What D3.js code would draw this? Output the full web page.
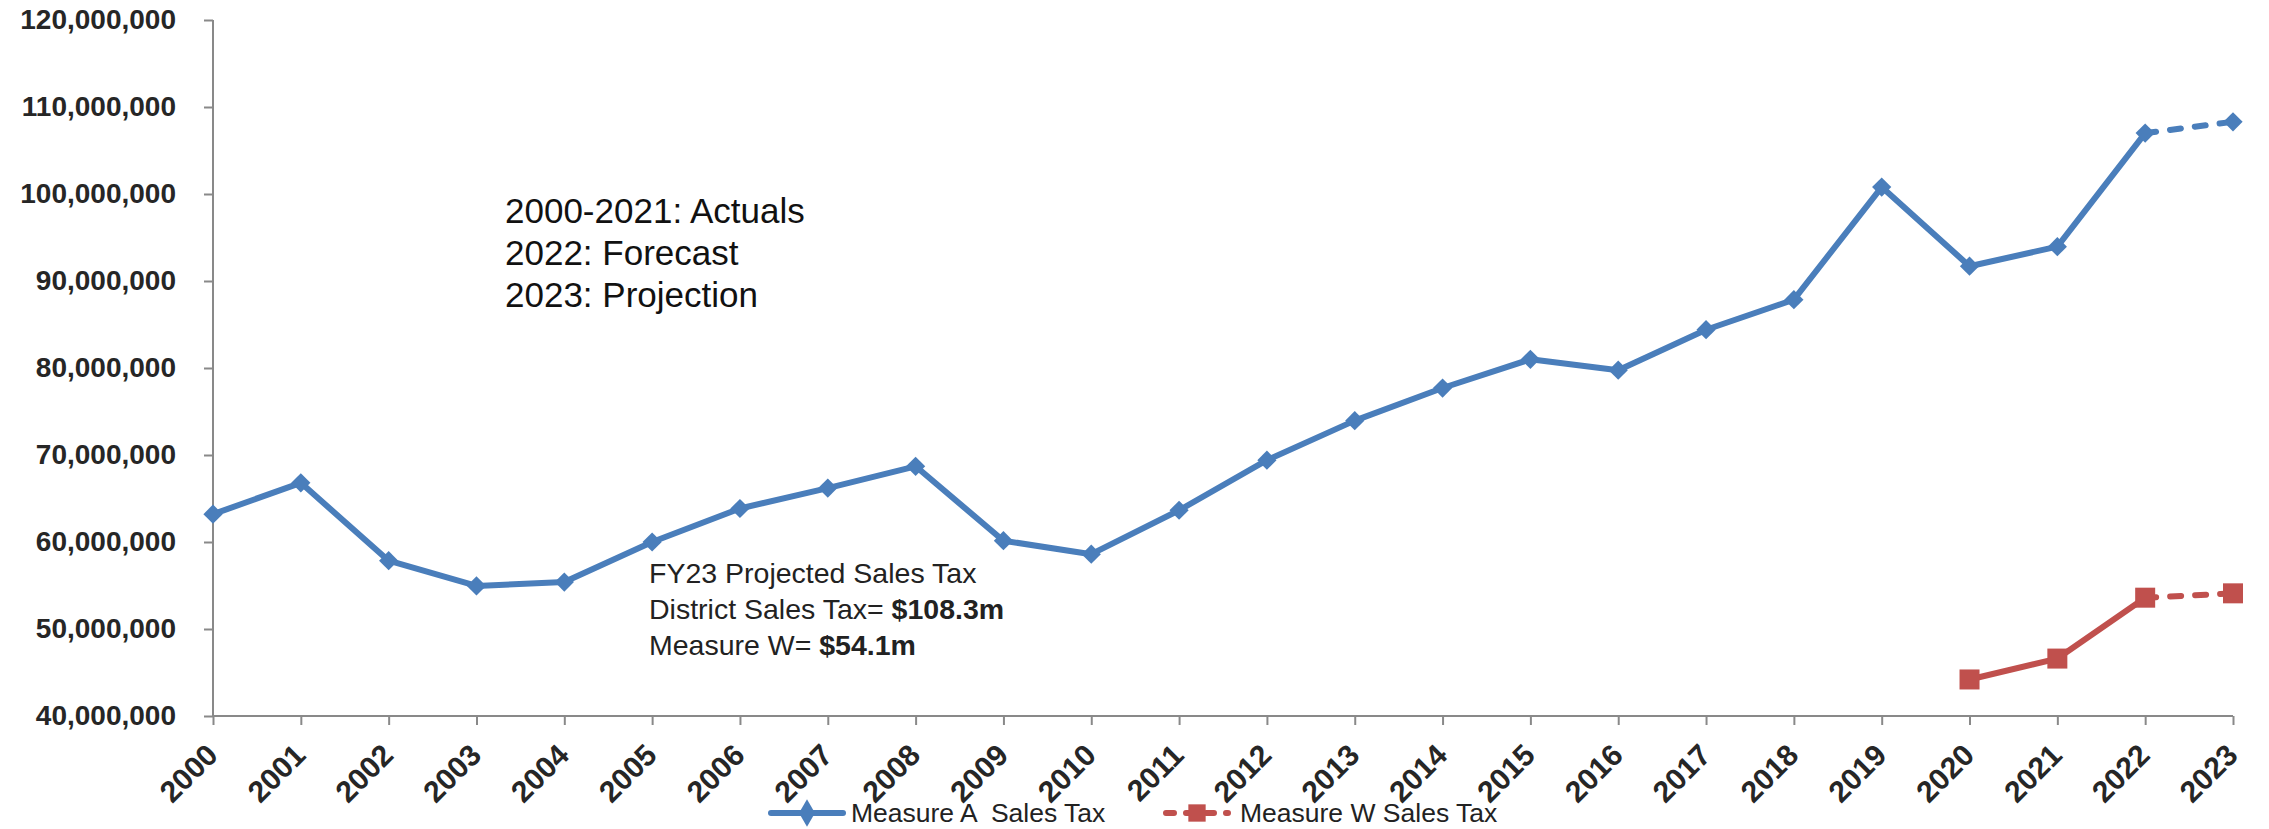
<!DOCTYPE html>
<html>
<head>
<meta charset="utf-8">
<script src="https://cdn.jsdelivr.net/npm/d3@7"></script>
<style>
  body { margin: 0; background: #fff; }
  svg { display: block; font-family: "Liberation Sans", Arial, sans-serif; }
  .axis path, .axis line { stroke: #898989; stroke-width: 2; }
  .axis text { fill: #262626; font-weight: bold; font-size: 28px; }
  .axis.x text { font-size: 30px; }
</style>
</head>
<body>
<svg width="2269" height="829"></svg>
<script>
// values in millions of dollars
const years = ['2000', '2001', '2002', '2003', '2004', '2005', '2006', '2007', '2008', '2009', '2010', '2011',
  '2012', '2013', '2014', '2015', '2016', '2017', '2018', '2019', '2020', '2021', '2022', '2023'];
const measureA = [63.2, 66.8, 57.85, 54.95, 55.4, 60.0, 63.85, 66.2, 68.7, 60.15, 58.6, 63.65,
  69.4, 73.95, 77.7, 81.0, 79.75, 84.4, 87.85, 100.8, 91.7, 93.95, 107.0, 108.3];
const measureW = [null, null, null, null, null, null, null, null, null, null, null, null,
  null, null, null, null, null, null, null, null, 44.2, 46.6, 53.6, 54.1];
const yTicks = [40, 50, 60, 70, 80, 90, 100, 110, 120];
const lastActual = '2022'; // dashed after this year
const seriesNames = ['Measure A  Sales Tax', 'Measure W Sales Tax'];
const notes = ['2000-2021: Actuals', '2022: Forecast', '2023: Projection'];

const blue = '#4A7EBB';
const red = '#C0504D';

const svg = d3.select('svg');

const x = d3.scalePoint().domain(years).range([213, 2233]);
const y = d3.scaleLinear().domain([40, 120]).range([716, 20]);

// axes
svg.append('g')
  .attr('class', 'axis')
  .attr('transform', 'translate(213,0)')
  .call(d3.axisLeft(y).tickValues(yTicks).tickSize(9).tickPadding(28)
    .tickFormat(d => d3.format(',')(d * 1e6)))
  .call(g => g.select('.domain').attr('d', 'M-0,' + y(120) + 'V' + y(40)));

const xAxis = svg.append('g')
  .attr('class', 'axis x')
  .attr('transform', 'translate(0,' + y(40) + ')')
  .call(d3.axisBottom(x).tickSize(9).tickSizeOuter(0));
xAxis.select('.domain').attr('d', 'M' + x('2000') + ',0H' + x('2023'));
xAxis.selectAll('text')
  .attr('x', 0).attr('y', 0).attr('dy', null)
  .attr('text-anchor', 'end')
  .attr('transform', 'translate(6,41) rotate(-45)');

function drawSeries(vals, color, diamond, size) {
  const pts = years.map((yr, i) => ({ yr: yr, v: vals[i] })).filter(d => d.v != null);
  const cut = years.indexOf(lastActual);
  const solid = pts.filter(d => years.indexOf(d.yr) <= cut);
  const dashed = pts.filter(d => years.indexOf(d.yr) >= cut);
  const line = d3.line().x(d => x(d.yr)).y(d => y(d.v));

  svg.append('path').datum(solid)
    .attr('d', line).attr('fill', 'none')
    .attr('stroke', color).attr('stroke-width', 6).attr('stroke-linejoin', 'round');
  svg.append('path').datum(dashed)
    .attr('d', line).attr('fill', 'none')
    .attr('stroke', color).attr('stroke-width', 6)
    .attr('stroke-linecap', 'round').attr('stroke-dasharray', '11,14');

  svg.append('g').selectAll('path').data(pts).join('path')
    .attr('d', d3.symbol(d3.symbolSquare, size))
    .attr('transform', d => 'translate(' + x(d.yr) + ',' + y(d.v) + ')' + (diamond ? ' rotate(45)' : ''))
    .attr('fill', color);
}

drawSeries(measureA, blue, true, 185);
drawSeries(measureW, red, false, 400);

// annotations
const note = svg.append('text')
  .attr('x', 505).attr('y', 223)
  .attr('font-size', 35).attr('fill', '#111');
note.selectAll('tspan').data(notes).join('tspan')
  .attr('x', 505).attr('dy', (d, i) => i ? 42 : 0)
  .text(d => d);

const fy = svg.append('text')
  .attr('x', 649).attr('y', 583)
  .attr('font-size', 28.5).attr('fill', '#222');
fy.append('tspan').attr('x', 649).text('FY23 Projected Sales Tax');
fy.append('tspan').attr('x', 649).attr('dy', 36).text('District Sales Tax= ');
fy.append('tspan').attr('font-weight', 'bold').text('$' + measureA[measureA.length - 1] + 'm');
fy.append('tspan').attr('x', 649).attr('dy', 36).text('Measure W= ');
fy.append('tspan').attr('font-weight', 'bold').text('$' + measureW[measureW.length - 1] + 'm');

// legend
const legend = [
  { name: seriesNames[0], color: blue, x0: 771, dash: null, diamond: true },
  { name: seriesNames[1], color: red, x0: 1166, dash: '8,12', diamond: false }
];
const lg = svg.append('g').selectAll('g').data(legend).join('g')
  .attr('transform', d => 'translate(' + d.x0 + ',813)');
lg.append('line')
  .attr('x1', 0).attr('x2', d => d.diamond ? 72 : 62)
  .attr('stroke', d => d.color).attr('stroke-width', 6)
  .attr('stroke-linecap', 'round')
  .attr('stroke-dasharray', d => d.dash);
lg.append('path')
  .attr('d', d => d.diamond ? d3.symbol(d3.symbolDiamond, 220)() : d3.symbol(d3.symbolSquare, 300)())
  .attr('transform', d => 'translate(' + (d.diamond ? 36 : 31) + ',0)')
  .attr('fill', d => d.color);
lg.append('text')
  .attr('x', d => d.diamond ? 80 : 74)
  .attr('dy', '0.35em')
  .attr('font-size', 26.5).attr('fill', '#222')
  .style('white-space', 'pre')
  .text(d => d.name);
</script>
</body>
</html>
